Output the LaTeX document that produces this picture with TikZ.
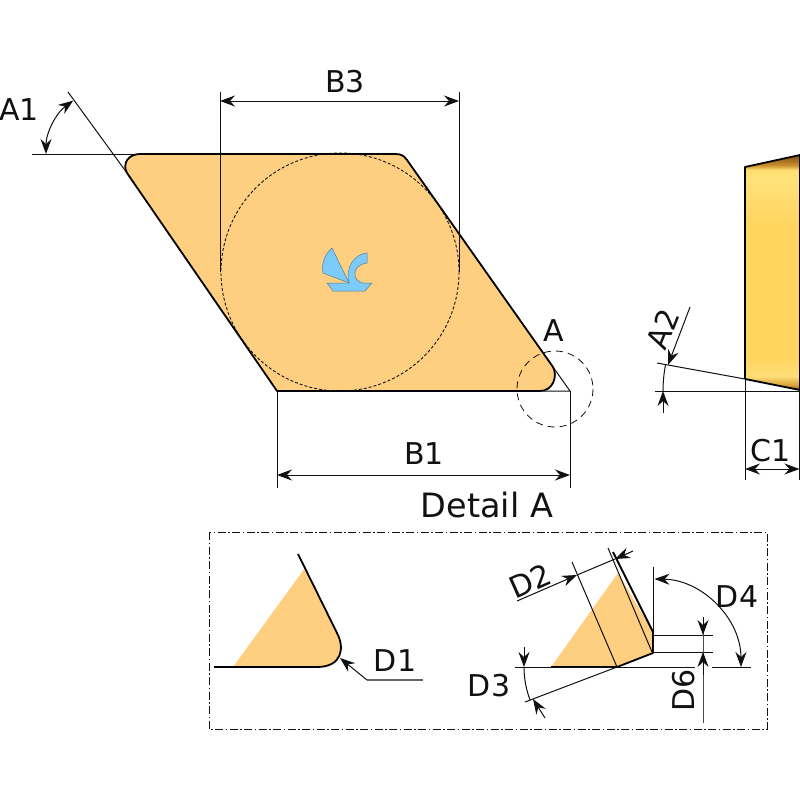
\documentclass[tikz,border=0pt]{standalone}
\usepackage{fontspec}
\setmainfont{DejaVu Sans}
\usetikzlibrary{arrows.meta}
\definecolor{insert}{HTML}{FFCF81}
\definecolor{logo}{HTML}{7CCBFA}
\definecolor{logoedge}{HTML}{4F7F99}
\definecolor{ink}{HTML}{111111}
\definecolor{bmid}{HTML}{FFD45F}
\definecolor{bdarkb}{HTML}{8A5A14}
\definecolor{bhalfb}{HTML}{D9A03A}
\definecolor{blightb}{HTML}{FFDF78}
\definecolor{blightt}{HTML}{FFE27C}
\definecolor{blightu}{HTML}{FFDF70}
\definecolor{bhalft}{HTML}{C98F30}
\definecolor{bdarkt}{HTML}{7E5212}
\pgfdeclareverticalshading{bladeshade}{100bp}{
 color(0bp)=(bmid);
 color(25bp)=(bdarkb);
 color(26bp)=(bhalfb);
 color(28bp)=(blightb);
 color(32bp)=(bmid);
 color(60bp)=(bmid);
 color(70bp)=(blightt);
 color(71.8bp)=(blightu);
 color(72.8bp)=(bhalft);
 color(75bp)=(bdarkt);
 color(100bp)=(bdarkt)}
\tikzset{
 edge/.style={draw=black,line width=1.8pt,line join=round},
 thin line/.style={draw=ink,line width=1pt},
 hidden/.style={draw=ink,line width=0.9pt,dash pattern=on 3pt off 2pt},
 detail circle/.style={draw=ink,line width=0.8pt,dash pattern=on 7pt off 5pt},
 frame/.style={draw=ink,line width=0.7pt,dash pattern=on 8pt off 2.5pt on 1.5pt off 2.5pt},
 tip/.style={-{Stealth[length=15pt,width=11pt,inset=5pt]}},
 tips/.style={{Stealth[length=15pt,width=11pt,inset=5pt]}-{Stealth[length=15pt,width=11pt,inset=5pt]}},
 dim/.style={font=\fontsize{30}{30}\selectfont,text=ink,inner sep=0pt},
 title/.style={font=\fontsize{33.5}{33.5}\selectfont,text=ink,inner sep=0pt},
}
\begin{document}
\begin{tikzpicture}[x=1pt,y=-1pt]
\useasboundingbox (0,0) rectangle (800,800);
\fill[white] (0,0) rectangle (800,800);

% main insert
\fill[insert] (140,154) -- (395,154) .. controls (402,154) and (404,156) .. (407,160)
  -- (553,367) .. controls (558,376) and (553,391) .. (540,391) -- (277,391) -- (127,173)
  .. controls (122,164) and (128,154) .. (140,154) -- cycle;
\draw[edge] (140,154) -- (395,154) .. controls (402,154) and (404,156) .. (407,160)
  -- (553,367) .. controls (558,376) and (553,391) .. (540,391) -- (277,391) -- (127,173)
  .. controls (122,164) and (128,154) .. (140,154) -- cycle;
\draw[hidden] (340,272) circle[radius=119];

% logo
\filldraw[fill=logo,draw=logoedge,line width=0.5pt] (332,248) .. controls (325,254) and (321,264) .. (323,273) -- (349,283) -- cycle;
\filldraw[fill=logo,draw=logoedge,line width=0.5pt] (367,253) .. controls (354,254) and (345,268) .. (349,283)
  -- (327,283) -- (333,291) -- (365,291) -- (372,283) -- (363,283)
  .. controls (352,281) and (351,265) .. (367,263) -- cycle;

% B3
\draw[thin line] (220,92) -- (220,272);
\draw[thin line] (459,92) -- (459,272);
\coordinate (b3l) at (220,101);
\coordinate (b3r) at (459,101);
\draw[thin line,tips] (b3l) -- (b3r);
\node[dim] (B3) at (345,82) {B3};

% A1
\draw[thin line] (32,154) -- (140,154);
\draw[thin line] (68,92) -- (127,173);
\draw[thin line,tips] (46,154) arc[start angle=180,end angle=234,radius=66];
\node[dim] (A1) at (19,110) {A1};

% detail marker
\draw[detail circle] (555,389) circle[radius=38];
\draw[thin line] (553,367) -- (570,391) -- (540,391);
\node[dim] (A) at (554,331) {A};

% B1
\draw[thin line] (277,391) -- (277,488);
\draw[thin line] (570,391) -- (570,488);
\draw[thin line,tips] (277,475) -- (570,475);
\node[dim] (B1) at (424,454) {B1};
\node[title] (DA) at (487,505) {Detail A};

% side view
\shade[shading=bladeshade] (745,167) -- (800,155) -- (800,390) -- (745,379) -- cycle;
\draw[edge] (745,379) -- (745,167) -- (800,155);
\draw[edge] (745,379) -- (800,390);
\draw[edge] (799.5,155) -- (799.5,390);
\draw[thin line] (657,363) -- (745,379);
\draw[thin line] (655,391) -- (800,391);
\draw[thin line] (745,379) -- (745,480);
\draw[thin line] (799.5,391) -- (799.5,480);
\draw[thin line,tips] (745,469) -- (799.5,469);
\node[dim] (C1) at (771,451) {C1};
\draw[thin line] (663,391) arc[start angle=180,end angle=191,radius=137];
\draw[thin line,tip] (690,307) -- (668,365);
\draw[thin line,tip] (663,413) -- (663,391);
\node[dim,rotate=68] (A2) at (663,329) {A2};

% detail frame
\draw[frame] (209,532) rectangle (767,729);

% left detail
\fill[insert] (305,568) -- (337,633) .. controls (345,648) and (342,667) .. (317,667) -- (233,667) -- cycle;
\draw[edge] (298,554) -- (337,633) .. controls (345,648) and (342,667) .. (317,667) -- (214,667);
\draw[thin line,tip] (367,680) -- (340,658);
\draw[draw=black!60,line width=1.2pt] (367,680) -- (423,680);
\node[dim] (D1) at (395,661) {D1};

% right detail
\fill[insert] (618,573) -- (653,632) -- (653,653) -- (617,667) -- (551,667) -- cycle;
\draw[edge] (613,552) -- (653,632) -- (653,653) -- (617,667) -- (551,667);
\draw[thin line] (572,562) -- (617,667);
\draw[thin line] (608,548) -- (652,652);
\draw[thin line] (653,567) -- (653,653);
\draw[thin line] (653,635) -- (713,635);
\draw[thin line] (653,652) -- (713,652);
\draw[thin line] (515,667) -- (695,667);
\draw[thin line] (712,667) -- (751,667);
\draw[draw=black!70,line width=1pt] (703,617) -- (703,723);
\draw[thin line,tip] (703,617) -- (703,635);
\draw[thin line,tip] (703,675) -- (703,652);
\node[dim,rotate=90] (D6) at (684,690) {D6};
\draw[thin line,tips] (654.5,579) arc[start angle=-89,end angle=0,radius=88];
\node[dim] (D4) at (737,597) {D4};
\draw[thin line] (617,667) -- (525,702);
\draw[thin line] (524,667) arc[start angle=180,end angle=159,radius=93];
\draw[thin line,tip] (524,647) -- (524,667);
\draw[thin line,tip] (545,718) -- (533,699);
\node[dim] (D3) at (489,686) {D3};
\draw[thin line,tip] (517,601) -- (577,575);
\draw[thin line] (577,575) -- (615,559);
\draw[thin line,tip] (633,551) -- (615,559);
\node[dim,rotate=24] (D2) at (530,581) {D2};
\end{tikzpicture}
\end{document}
